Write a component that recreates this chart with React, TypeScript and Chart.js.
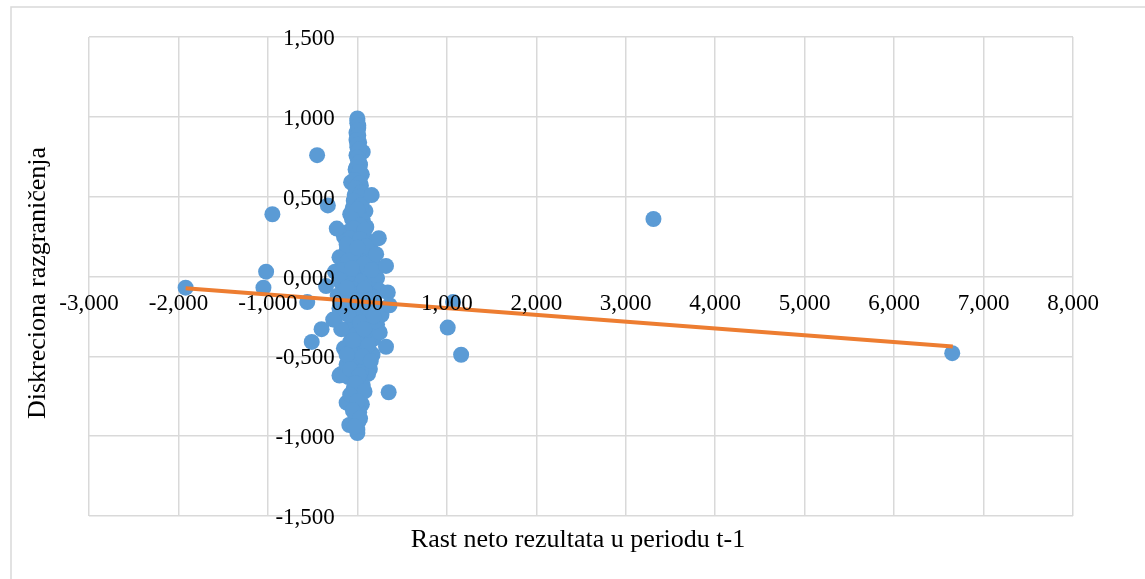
import React, { useEffect, useRef } from 'react';
import { Chart, registerables } from 'chart.js';

Chart.register(...registerables);

const xTicks = [-3, -2, -1, 0, 1, 2, 3, 4, 5, 6, 7, 8];
const yTicks = [-1.5, -1, -0.5, 0, 0.5, 1, 1.5];
const xTitle = 'Rast neto rezultata u periodu t-1';
const yTitle = 'Diskreciona razgraničenja';

const pointsX = [
  0.00, 0.00, 0.01, -0.01, 0.00, 0.02, 0.00, 0.06, -0.01, 0.01,
  0.03, -0.02, 0.05, 0.00, -0.07, 0.04, 0.01, -0.03, 0.07, 0.00,
  -0.05, 0.09, -0.08, 0.02, 0.06, -0.02, 0.10, -0.10, 0.04, -0.15,
  0.12, 0.00, -0.06, 0.15, -0.12, 0.05, -0.20, 0.09, -0.03, 0.18,
  -0.14, 0.02, -0.25, 0.12, -0.08, 0.22, 0.05, -0.18, 0.14, -0.05,
  0.25, 0.00, -0.22, 0.10, -0.10, 0.20, 0.02, -0.15, 0.15, -0.05,
  0.08, -0.25, 0.22, 0.00, -0.12, 0.12, -0.03, 0.18, -0.08, 0.05,
  -0.15, 0.14, 0.00, -0.06, 0.10, -0.02, 0.08, -0.20, -0.10, 0.12,
  0.00, 0.06, -0.04, 0.02, -0.03, -0.12, 0.05, 0.00, 0.02, -0.02,
  0.01, -0.09, 0.00, 0.00,
  0.17, 0.25, 0.27, -0.18, 0.14, 0.20, -0.10, 0.07, -0.04, 0.16,
  -0.20, 0.06, -0.16, 0.12, 0.20, -0.08, 0.08, -0.12, 0.04,
  0.00, 0.01, 0.00, 0.01, -0.01, 0.00, 0.02, 0.00, 0.02, -0.01,
  0.02, -0.03, 0.03, -0.02, 0.04, 0.02, -0.04, 0.04, 0.00, -0.06,
  0.03, -0.04, 0.08, -0.08, 0.03, 0.10, -0.12, 0.00,
  0.08, -0.06, 0.16, -0.20, 0.08, -0.12, 0.18, -0.02, 0.12, -0.10,
  0.18, 0.03, -0.18, 0.07, -0.05, 0.12, -0.12, 0.06, 0.15, -0.08,
  0.02, -0.02, 0.08, -0.08, 0.00, -0.05, 0.03, -0.03,
  -1.92, -1.02, -1.05, -0.95, -0.45, -0.33, -0.56, -0.40, -0.51, -0.35,
  -0.23, -0.27, 0.16, 0.24, 0.21, 0.32, 0.34, 0.36, 0.32, 0.35,
  1.01, 1.16, 1.07, 3.31, 6.65,
];
const pointsY = [
  0.99, 0.96, 0.93, 0.90, 0.87, 0.84, 0.81, 0.78, 0.76, 0.73,
  0.70, 0.67, 0.64, 0.62, 0.59, 0.57, 0.54, 0.51, 0.49, 0.46,
  0.43, 0.41, 0.39, 0.38, 0.35, 0.33, 0.31, 0.28, 0.27, 0.25,
  0.22, 0.21, 0.19, 0.17, 0.16, 0.14, 0.12, 0.11, 0.09, 0.07,
  0.06, 0.04, 0.03, 0.02, 0.00, -0.01, -0.03, -0.04, -0.06, -0.08,
  -0.09, -0.11, -0.12, -0.14, -0.16, -0.18, -0.19, -0.21, -0.23, -0.25,
  -0.27, -0.27, -0.30, -0.31, -0.33, -0.35, -0.37, -0.39, -0.41, -0.43,
  -0.45, -0.47, -0.49, -0.52, -0.53, -0.56, -0.58, -0.62, -0.63, -0.61,
  -0.65, -0.68, -0.70, -0.73, -0.76, -0.79, -0.80, -0.82, -0.85, -0.88,
  -0.91, -0.93, -0.96, -0.98,
  -0.49, -0.35, -0.24, -0.61, -0.58, 0.01, 0.10, 0.24, 0.15, -0.12,
  -0.20, -0.21, 0.04, 0.05, -0.28, -0.47, -0.40, -0.55, -0.60,
  0.975, 0.945, 0.915, 0.885, 0.855, 0.825, 0.795, 0.745, 0.715, 0.685,
  0.655, 0.605, 0.585, 0.555, 0.525, 0.50, 0.475, 0.445, 0.42, 0.36,
  0.32, 0.30, 0.29, 0.24, 0.235, 0.19, 0.20, 0.18,
  0.08, 0.05, 0.04, -0.02, -0.08, -0.07, -0.13, -0.15, -0.20, -0.24,
  -0.25, -0.29, -0.33, -0.33, -0.40, -0.43, -0.49, -0.50, -0.53, -0.58,
  -0.62, -0.67, -0.72, -0.74, -0.78, -0.84, -0.89, -0.94,
  -0.07, 0.03, -0.07, 0.39, 0.76, 0.445, -0.16, -0.33, -0.41, -0.06,
  0.30, -0.27, 0.51, 0.24, 0.14, 0.066, -0.10, -0.18, -0.44, -0.725,
  -0.32, -0.49, -0.16, 0.36, -0.48,
];
const trendX = [-1.92, 6.656];
const trendY = [-0.074, -0.439];

const FONT = "'Times New Roman', 'Liberation Serif', serif";
const fmt = (v: number) => v.toFixed(3).replace('.', ',');

const labelsPlugin = {
  id: 'customLabels',
  beforeDraw(chart: any) {
    const ctx = chart.ctx;
    ctx.save();
    ctx.fillStyle = '#ffffff';
    ctx.fillRect(0, 0, chart.width, chart.height);
    ctx.strokeStyle = '#d9d9d9';
    ctx.lineWidth = 1.5;
    ctx.beginPath();
    ctx.moveTo(11, chart.height);
    ctx.lineTo(11, 7);
    ctx.lineTo(chart.width, 7);
    ctx.stroke();
    ctx.restore();
  },
  afterDatasetsDraw(chart: any) {
    const ctx = chart.ctx;
    const xs = chart.scales.x;
    const ys = chart.scales.y;
    const x0 = xs.getPixelForValue(0);
    const y0 = ys.getPixelForValue(0);
    ctx.save();
    ctx.fillStyle = '#000000';
    ctx.font = `23px ${FONT}`;
    ctx.textBaseline = 'alphabetic';
    ctx.textAlign = 'center';
    xTicks.forEach((v) => {
      ctx.fillText(fmt(v), xs.getPixelForValue(v), y0 + 33);
    });
    ctx.textAlign = 'right';
    yTicks.forEach((v) => {
      ctx.fillText(fmt(v), x0 - 22.5, ys.getPixelForValue(v) + 8);
    });
    ctx.font = `26px ${FONT}`;
    ctx.textAlign = 'center';
    ctx.fillText(xTitle, 578, 547);
    ctx.translate(45, 283);
    ctx.rotate(-Math.PI / 2);
    ctx.fillText(yTitle, 0, 0);
    ctx.restore();
  },
};

export default function App() {
  const ref = useRef<HTMLCanvasElement | null>(null);
  useEffect(() => {
    if (!ref.current) return;
    const scatterData = pointsX.map((x, i) => ({ x, y: pointsY[i] }));
    const trendData = trendX.map((x, i) => ({ x, y: trendY[i] }));
    const chart = new Chart(ref.current, {
      type: 'scatter',
      data: {
        datasets: [
          {
            type: 'line',
            data: trendData,
            borderColor: '#ed7d31',
            borderWidth: 4,
            pointRadius: 0,
            fill: false,
            order: 0,
          } as any,
          {
            type: 'scatter',
            data: scatterData,
            backgroundColor: '#5b9bd5',
            borderWidth: 0,
            pointRadius: 8,
            order: 1,
          },
        ],
      },
      options: {
        animation: false,
        responsive: false,
        devicePixelRatio: 1,
        layout: { padding: { left: 89, top: 37, right: 72, bottom: 63 } },
        plugins: { legend: { display: false }, tooltip: { enabled: false } },
        scales: {
          x: {
            type: 'linear',
            min: -3,
            max: 8,
            ticks: { display: false, stepSize: 1 },
            grid: { color: '#d9d9d9', lineWidth: 1.5, drawTicks: false },
            border: { display: false },
          },
          y: {
            type: 'linear',
            min: -1.5,
            max: 1.5,
            ticks: { display: false, stepSize: 0.5 },
            grid: { color: '#d9d9d9', lineWidth: 1.5, drawTicks: false },
            border: { display: false },
          },
        },
      },
      plugins: [labelsPlugin],
    });
    return () => chart.destroy();
  }, []);
  return (
    <div style={{ position: 'fixed', left: 0, top: 0, width: 1145, height: 579, background: '#fff' }}>
      <canvas ref={ref} width={1145} height={579} style={{ width: 1145, height: 579 }} />
    </div>
  );
}
